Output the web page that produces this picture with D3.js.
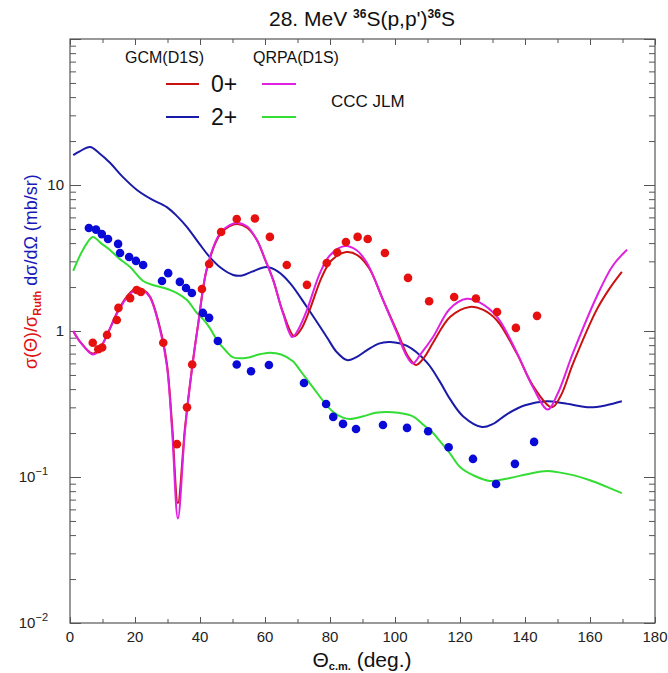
<!DOCTYPE html>
<html><head><meta charset="utf-8">
<script src="https://cdn.jsdelivr.net/npm/d3@7"></script>
<style>body{margin:0;background:#fff}</style>
</head><body>
<svg id="c" width="668" height="673"></svg>
<script>
// ---------- DATA ----------
const gcm0Theta = [1,3,7,9,11.4,14.8,18,20.6,22.5,24.6,27.7,29.8,31.4,33.2,35.4,37.5,39.4,42.2,46.2,49,51.5,54.5,57.5,60,62.5,65.5,69,71,73.5,77.5,80.5,85,88.5,92,96.5,101,104,106.5,109,111.7,117,123,127,131.4,137.5,142.5,148.3,151,154.8,162,166,169.8];
const gcm0Val   = [1.0,0.85,0.7,0.75,0.94,1.38,1.78,1.97,1.92,1.72,1.05,0.6,0.23,0.066,0.22,0.55,1.1,2.7,4.6,5.2,5.4,5.1,4.2,3.1,2.25,1.35,0.92,1.02,1.35,2.35,3.05,3.47,3.3,2.7,1.6,0.95,0.67,0.585,0.66,0.83,1.25,1.46,1.4,1.18,0.7,0.42,0.30,0.36,0.6,1.39,1.95,2.54];

const qrpa0Theta = [1,3,7,9,11.4,14.8,18,20.6,22.5,24.6,27.7,29.8,31.4,33.2,35.4,37.5,39.4,42.2,46.2,49,51.5,54.5,57.5,60,62.5,65.5,68.4,70.5,72.9,76.9,80,84.6,88,91.4,96.3,100.6,103.5,105.5,108,111.7,116.9,122,126,131.4,137.5,142.5,147,150,154.8,162,167,171.4];
const qrpa0Val   = [1.0,0.85,0.69,0.74,0.94,1.36,1.75,1.94,1.9,1.7,1.02,0.58,0.21,0.052,0.21,0.54,1.1,2.74,4.69,5.3,5.5,5.2,4.2,3.1,2.23,1.33,0.91,1.05,1.39,2.49,3.3,3.82,3.6,2.92,1.63,0.97,0.68,0.6,0.7,0.91,1.42,1.66,1.57,1.25,0.71,0.41,0.29,0.37,0.71,1.71,2.8,3.6];

const gcm2Theta = [1,3,6.2,9,12.3,16,20.6,25,29.8,33,36,40,43,46.5,50.2,53,56,60.6,64,67.7,72.9,79,82,85.2,88,91.4,95,98.5,103.7,109.8,113.8,117,121,126.8,130,134.5,140,146.7,152,160,165,169.8];
const gcm2Val   = [16,17,18.2,16.5,14.2,11.5,9.25,8.0,7.06,6.1,5.15,3.9,3.21,2.7,2.42,2.4,2.55,2.74,2.55,2.13,1.46,0.91,0.72,0.632,0.66,0.74,0.82,0.84,0.79,0.61,0.45,0.34,0.26,0.22,0.23,0.27,0.31,0.33,0.32,0.30,0.31,0.33];

const jlm2Theta = [1,4,7,9.5,12.3,15,18.5,22.5,26,29,32.9,36,39,41,43,45.2,48,50.2,54.5,58,61.5,65,68.6,71,74.8,78,80.9,84,86.2,90,94,97.5,101,105.5,108.5,111.7,114,116.9,120,124,129.2,135.4,141,146.8,150,154.8,160,165,169.8];
const jlm2Val   = [2.58,3.6,4.41,4.0,3.59,3.15,2.74,2.2,2.05,1.97,1.82,1.63,1.33,1.2,1.05,0.87,0.73,0.66,0.655,0.69,0.71,0.69,0.62,0.53,0.41,0.33,0.28,0.255,0.25,0.26,0.275,0.279,0.275,0.26,0.23,0.20,0.174,0.145,0.117,0.103,0.094,0.0984,0.105,0.110,0.108,0.103,0.095,0.086,0.0776];

const exp0Theta = [7.0,8.7,9.9,11.4,14.4,14.9,18.5,20.5,21.8,28.7,32.9,36,37.6,40.6,42.8,46.5,51.3,56.9,61.5,66.7,72.9,79,82.2,84.9,88.5,91.6,96.9,104,110.5,118.2,124.9,131.4,137.2,143.7];
const exp0Val   = [0.83,0.75,0.77,0.94,1.19,1.44,1.68,1.91,1.85,0.83,0.168,0.30,0.59,1.94,2.88,4.76,5.85,5.9,4.41,2.83,2.07,2.92,3.45,4.07,4.41,4.27,3.42,2.31,1.6,1.71,1.67,1.35,1.05,1.27];

const exp2Theta = [5.8,8.0,9.8,11.7,14.8,15.4,18.2,20.3,22.5,28.3,30.2,33.8,35.7,37.5,40.9,42.8,45.5,51.3,55.7,61.2,72,78.8,81,84,88,96.3,103.7,110.2,116.5,124,131.1,136.9,142.8];
const exp2Val   = [5.07,4.95,4.61,4.27,3.95,3.42,3.21,3.02,2.83,2.2,2.49,2.17,1.97,1.82,1.33,1.23,0.855,0.59,0.53,0.585,0.44,0.316,0.258,0.231,0.213,0.227,0.217,0.206,0.16,0.133,0.0895,0.123,0.174];

const xMajorTicks = [0,20,40,60,80,100,120,140,160,180];
const xMinorTicks = [10,30,50,70,90,110,130,150,170];
const yDecades = [0.01,0.1,1,10,100];
const yLabels = [{v:0.01,base:"10",exp:"−2"},{v:0.1,base:"10",exp:"−1"},{v:1,base:"1",exp:""},{v:10,base:"10",exp:""}];

// ---------- CHART ----------
const svg = d3.select("#c");
const L=70,R=655,T=39,B=623;
const x = d3.scaleLinear([0,180],[L,R]);
const y = d3.scaleLog([0.01,100],[B,T]);
const font = "'Liberation Sans', Arial, sans-serif";
const axisCol = "#555";

svg.append("defs").append("clipPath").attr("id","clip")
  .append("rect").attr("x",L).attr("y",T).attr("width",R-L).attr("height",B-T);

const yMinor = [];
yDecades.slice(0,-1).forEach(d=>{for(let k=2;k<=9;k++) yMinor.push(d*k);});

function styleAxis(g){g.select(".domain").remove();g.selectAll(".tick line").attr("stroke",axisCol);}
svg.append("g").attr("transform",`translate(0,${B})`).call(d3.axisBottom(x).tickValues(xMajorTicks).tickSize(-6).tickFormat("")).call(styleAxis);
svg.append("g").attr("transform",`translate(0,${B})`).call(d3.axisBottom(x).tickValues(xMinorTicks).tickSize(-4).tickFormat("")).call(styleAxis);
svg.append("g").attr("transform",`translate(0,${T})`).call(d3.axisTop(x).tickValues(xMajorTicks).tickSize(-6).tickFormat("")).call(styleAxis);
svg.append("g").attr("transform",`translate(0,${T})`).call(d3.axisTop(x).tickValues(xMinorTicks).tickSize(-4).tickFormat("")).call(styleAxis);
svg.append("g").attr("transform",`translate(${L},0)`).call(d3.axisLeft(y).tickValues(yDecades).tickSize(-11).tickFormat("")).call(styleAxis);
svg.append("g").attr("transform",`translate(${L},0)`).call(d3.axisLeft(y).tickValues(yMinor).tickSize(-6).tickFormat("")).call(styleAxis);
svg.append("g").attr("transform",`translate(${R},0)`).call(d3.axisRight(y).tickValues(yDecades).tickSize(-11).tickFormat("")).call(styleAxis);
svg.append("g").attr("transform",`translate(${R},0)`).call(d3.axisRight(y).tickValues(yMinor).tickSize(-6).tickFormat("")).call(styleAxis);

svg.append("rect").attr("x",L).attr("y",T).attr("width",R-L).attr("height",B-T)
  .attr("fill","none").attr("stroke",axisCol).attr("stroke-width",1.2);

// x tick labels
svg.append("g").selectAll("text").data(xMajorTicks).join("text")
  .attr("x",d=>x(d)).attr("y",B+19).attr("text-anchor","middle")
  .attr("font-family",font).attr("font-size",15).attr("fill","#222").text(d=>d);

// y tick labels
const yl = svg.append("g").selectAll("text").data(yLabels).join("text")
  .attr("x",L-6).attr("y",d=>y(d.v)+5).attr("text-anchor","end")
  .attr("font-family",font).attr("font-size",15).attr("fill","#222");
yl.each(function(d){
  const t=d3.select(this);
  if(d.exp){
    t.attr("x",L-22);
    t.append("tspan").text(d.base);
    t.append("tspan").attr("font-size",11).attr("dy",-7).text(d.exp);
  } else t.text(d.base);
});

// curves
const line = d3.line().x(d=>x(d[0])).y(d=>y(d[1])).curve(d3.curveCatmullRom.alpha(0.5));
const zip=(a,b)=>a.map((v,i)=>[v,b[i]]);
const curves = svg.append("g").attr("clip-path","url(#clip)");
[[jlm2Theta,jlm2Val,"#33dd33"],[gcm2Theta,gcm2Val,"#1a1aa8"],[gcm0Theta,gcm0Val,"#cc1111"],[qrpa0Theta,qrpa0Val,"#e020e0"]]
.forEach(([t,v,c])=>{
  curves.append("path").datum(zip(t,v)).attr("d",line).attr("fill","none").attr("stroke",c).attr("stroke-width",2);
});

// points
svg.append("g").selectAll("circle").data(zip(exp2Theta,exp2Val)).join("circle")
  .attr("cx",d=>x(d[0])).attr("cy",d=>y(d[1])).attr("r",4.3).attr("fill","#0a0ad8");
svg.append("g").selectAll("circle").data(zip(exp0Theta,exp0Val)).join("circle")
  .attr("cx",d=>x(d[0])).attr("cy",d=>y(d[1])).attr("r",4.3).attr("fill","#e61010");

// title
const title = svg.append("text").attr("x",362).attr("y",26).attr("text-anchor","middle")
  .attr("font-family",font).attr("font-size",21).attr("fill","#111");
title.append("tspan").text("28. MeV ");
title.append("tspan").attr("font-size",12).attr("font-weight","bold").attr("dy",-8).text("36");
title.append("tspan").attr("dy",8).text("S(p,p')");
title.append("tspan").attr("font-size",12).attr("font-weight","bold").attr("dy",-8).text("36");
title.append("tspan").attr("dy",8).text("S");

// legend
const narrow = "'Liberation Sans Narrow', 'Arial Narrow', sans-serif";
svg.append("text").attr("x",125).attr("y",63).attr("font-family",narrow).attr("font-size",16).attr("fill","#111").text("GCM(D1S)");
svg.append("text").attr("x",253).attr("y",63).attr("font-family",narrow).attr("font-size",16).attr("fill","#111").text("QRPA(D1S)");
const legRows = [{lab:"0+",c1:"#cc1111",c2:"#e020e0",yy:84},{lab:"2+",c1:"#1a1aa8",c2:"#33dd33",yy:117}];
legRows.forEach(r=>{
  svg.append("line").attr("x1",166).attr("x2",199).attr("y1",r.yy).attr("y2",r.yy).attr("stroke",r.c1).attr("stroke-width",2);
  svg.append("line").attr("x1",262).attr("x2",296).attr("y1",r.yy).attr("y2",r.yy).attr("stroke",r.c2).attr("stroke-width",2);
  svg.append("text").attr("x",211).attr("y",r.yy+8).attr("font-family",font).attr("font-size",23).attr("fill","#111").text(r.lab);
});
svg.append("text").attr("x",331).attr("y",107).attr("font-family",font).attr("font-size",17).attr("fill","#111").text("CCC JLM");

// y label
const ylab = svg.append("text").attr("transform","translate(37,369) rotate(-90)").attr("text-anchor","start")
  .attr("font-family",font).attr("font-size",18);
ylab.append("tspan").attr("fill","#e01010").text("σ(Θ)/σ");
ylab.append("tspan").attr("fill","#e01010").attr("font-size",11).attr("font-weight","bold").attr("dy",4).text("Ruth");
ylab.append("tspan").attr("fill","#1a1ab8").attr("dy",-4).text(" dσ/dΩ (mb/sr)");

// x label
const xlab = svg.append("text").attr("x",362).attr("y",667).attr("text-anchor","middle")
  .attr("font-family",font).attr("font-size",21).attr("fill","#111");
xlab.append("tspan").text("Θ");
xlab.append("tspan").attr("font-size",11).attr("font-weight","bold").attr("dy",3).text("c.m.");
xlab.append("tspan").attr("dy",-3).text(" (deg.)");
</script>
</body></html>
